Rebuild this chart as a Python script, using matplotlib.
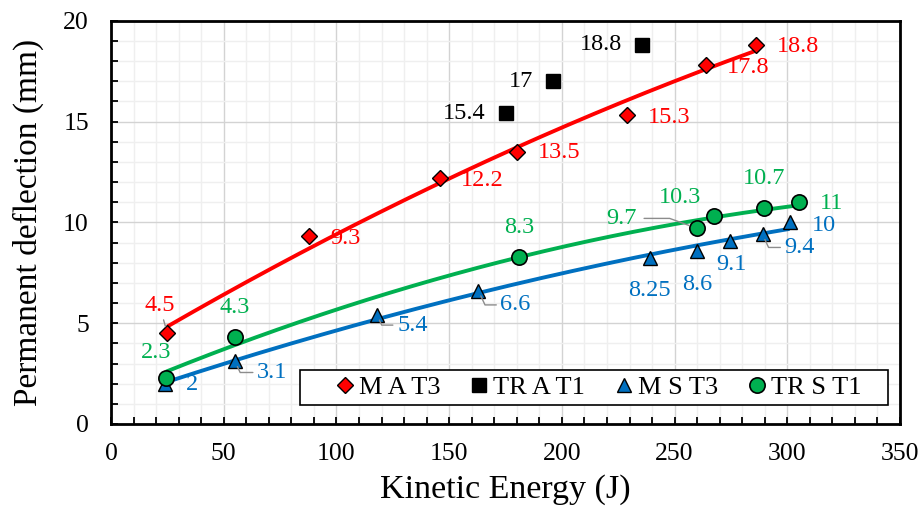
import numpy as np
import matplotlib
matplotlib.use("Agg")
import matplotlib.pyplot as plt
from matplotlib.ticker import MultipleLocator
from matplotlib.patches import Rectangle

plt.rcParams['font.family'] = ['Liberation Serif', 'DejaVu Serif']

# ---- data ----
ma_x = [25, 88, 146, 180, 229, 264, 286]
ma_y = [4.5, 9.3, 12.2, 13.5, 15.3, 17.8, 18.8]
ma_lbl = ["4.5", "9.3", "12.2", "13.5", "15.3", "17.8", "18.8"]

tra_x = [175, 196, 235.5]
tra_y = [15.4, 17, 18.8]
tra_lbl = ["15.4", "17", "18.8"]

ms_x = [24, 55, 118, 163, 239, 260, 274.5, 289, 301]
ms_y = [2, 3.1, 5.4, 6.6, 8.25, 8.6, 9.1, 9.4, 10]
ms_lbl = ["2", "3.1", "5.4", "6.6", "8.25", "8.6", "9.1", "9.4", "10"]

trs_x = [24.5, 55, 181, 260, 267.5, 289.5, 305]
trs_y = [2.3, 4.3, 8.3, 9.7, 10.3, 10.7, 11]
trs_lbl = ["2.3", "4.3", "8.3", "9.7", "10.3", "10.7", "11"]

series_names = ["M A T3", "TR A T1", "M S T3", "TR S T1"]
x_ticks = [0, 50, 100, 150, 200, 250, 300, 350]
y_ticks = [0, 5, 10, 15, 20]

# ---- styles ----
RED = '#FF0000'
GREEN = '#00B050'
BLUE = '#0070C0'
LEAD = '#8c8c8c'

# label offsets (pixels, y up), ha, leader?
ma_off = [(-8, 28, 'center', 'diag'), (21, -2, 'left', None), (21, -3, 'left', None),
          (21, -1, 'left', None), (21, -2, 'left', None), (21, -2, 'left', None),
          (21, -2, 'left', None)]
tra_off = [(-20, 0, 'right', None)] * 3
ms_off = [(21, -1, 'left', None), (22, -11, 'left', 'L'), (20, -10, 'left', 'L'),
          (22, -14, 'left', 'L'), (0, -33, 'center', None), (0, -34, 'center', None),
          (2, -24, 'center', None), (22, -13, 'left', 'L'), (22, -3, 'left', None)]
trs_off = [(-10, 25, 'center', None), (0, 30, 'center', None), (0, 29, 'center', None),
           (-60, 10, 'right', 'H'), (-34, 19, 'center', None), (0, 30, 'center', None),
           (21, -1, 'left', None)]

fig = plt.figure(figsize=(9.23, 5.14), dpi=100)
ax = fig.add_axes([0.1203, 0.1751, 0.8548, 0.7846])

ax.set_xlim(0, 350)
ax.set_ylim(0, 20)
ax.xaxis.set_major_locator(MultipleLocator(50))
ax.xaxis.set_minor_locator(MultipleLocator(10))
ax.yaxis.set_major_locator(MultipleLocator(5))
ax.yaxis.set_minor_locator(MultipleLocator(1))
ax.set_xticks(x_ticks)
ax.set_yticks(y_ticks)
ax.set_xticklabels([str(v) for v in x_ticks])
ax.set_yticklabels([str(v) for v in y_ticks])

ax.grid(which='minor', color='#efefef', lw=1.0, zorder=0)
ax.grid(which='major', color='#d3d3d3', lw=1.0, zorder=0)
ax.set_axisbelow(True)

for s in ax.spines.values():
    s.set_color('black')
    s.set_linewidth(2.0)

ax.tick_params(which='both', direction='in', length=5, width=1.3, colors='black',
               top=False, right=False)
ax.tick_params(axis='x', which='major', labelsize=18.5, pad=14)
ax.tick_params(axis='y', which='major', labelsize=18.5, pad=16)

ax.set_xlabel("Kinetic Energy (J)", fontsize=24.5, labelpad=6)
ax.set_ylabel("Permanent deflection (mm)", fontsize=24, labelpad=14)


def trend(xs, ys, color):
    c = np.polyfit(xs, ys, 2)
    xx = np.linspace(min(xs), max(xs), 200)
    ax.plot(xx, np.polyval(c, xx), color=color, lw=2.8, zorder=2, solid_capstyle='butt')


trend(ma_x, ma_y, RED)
trend(ms_x, ms_y, BLUE)
trend(trs_x, trs_y, GREEN)

h1, = ax.plot(ma_x, ma_y, ls='none', marker='D', ms=8, mfc=RED, mec='black', mew=1.0,
              zorder=4, label=series_names[0])
h2, = ax.plot(tra_x, tra_y, ls='none', marker='s', ms=10, mfc='black', mec='black', mew=1.0,
              zorder=4, label=series_names[1])
h3, = ax.plot(ms_x, ms_y, ls='none', marker='^', ms=10, mfc=BLUE, mec='black', mew=1.0,
              zorder=4, label=series_names[2])
h4, = ax.plot(trs_x, trs_y, ls='none', marker='o', ms=11, mfc=GREEN, mec='black', mew=1.2,
              zorder=4, label=series_names[3])


def labels(xs, ys, lbls, offs, color):
    for x, y, t, (dx, dy, ha, lead) in zip(xs, ys, lbls, offs):
        kw = {}
        if lead == 'diag':
            kw['arrowprops'] = dict(arrowstyle='-', color=LEAD, lw=1.0, shrinkA=1, shrinkB=5)
        elif lead == 'L':
            kw['arrowprops'] = dict(arrowstyle='-', color=LEAD, lw=1.0, shrinkA=1, shrinkB=4,
                                    connectionstyle='angle,angleA=0,angleB=-65,rad=0')
        elif lead == 'H':
            kw['arrowprops'] = dict(arrowstyle='-', color=LEAD, lw=1.0, shrinkA=3, shrinkB=6,
                                    connectionstyle='angle,angleA=0,angleB=160,rad=0')
        ax.annotate(t, (x, y), xytext=(dx, dy), textcoords='offset pixels',
                    ha=ha, va='center', fontsize=17.5, color=color, zorder=5, **kw)


labels(ma_x, ma_y, ma_lbl, ma_off, RED)
labels(tra_x, tra_y, tra_lbl, tra_off, 'black')
labels(ms_x, ms_y, ms_lbl, ms_off, BLUE)
labels(trs_x, trs_y, trs_lbl, trs_off, GREEN)

# legend box
ax.add_patch(Rectangle((0.2395, 0.047), 0.7455, 0.087, transform=ax.transAxes,
                       facecolor='white', edgecolor='black', lw=1.2, zorder=6))
leg = ax.legend(handles=[h1, h2, h3, h4], loc='center', ncol=4,
                bbox_to_anchor=(0.6153, 0.0906),
                fontsize=19, frameon=False, handletextpad=0.05,
                handlelength=1.0, columnspacing=0.95, borderpad=0.1, borderaxespad=0)
leg.set_zorder(7)

fig.savefig('out.png', dpi=100)
